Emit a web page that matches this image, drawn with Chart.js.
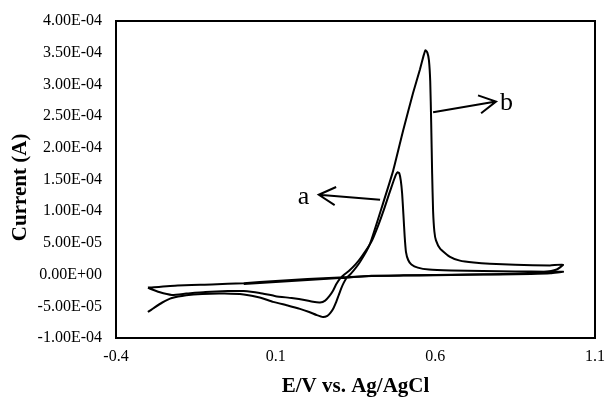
<!DOCTYPE html>
<html>
<head>
<meta charset="utf-8">
<script src="https://cdn.jsdelivr.net/npm/chart.js@4"></script>
<style>
  body { margin: 0; background: #fff; }
</style>
</head>
<body>
<canvas id="cvChart" width="605" height="399"></canvas>
<script>
// curve a: potential (V) and current (A), scan order
const aE = [-0.30, -0.265, -0.225, -0.18, -0.12, -0.05, 0.0, 0.05, 0.10, 0.15, 0.19, 0.217, 0.239, 0.255, 0.268, 0.28, 0.29, 0.302, 0.315, 0.33, 0.35, 0.37, 0.40, 0.42, 0.44, 0.455, 0.468, 0.477, 0.482, 0.487, 0.492, 0.496, 0.500, 0.504, 0.508, 0.515, 0.525, 0.545, 0.58, 0.65, 0.75, 0.85, 0.95, 1.0, 0.96, 0.9, 0.8, 0.7, 0.6, 0.5, 0.4, 0.3, 0.2, 0.1, 0.0, -0.1, -0.207, -0.30];
const aI = [-2.1e-5, -2.75e-5, -3.2e-5, -3.0e-5, -2.75e-5, -2.6e-5, -2.6e-5, -2.9e-5, -3.4e-5, -3.7e-5, -4.0e-5, -4.3e-5, -4.4e-5, -4.1e-5, -3.4e-5, -2.5e-5, -1.5e-5, -6e-6, 0, 6e-6, 1.6e-5, 2.9e-5, 5.2e-5, 7.6e-5, 1.04e-4, 1.27e-4, 1.46e-4, 1.58e-4, 1.615e-4, 1.6e-4, 1.48e-4, 1.28e-4, 9.5e-5, 6.0e-5, 3.6e-5, 2.3e-5, 1.6e-5, 1.1e-5, 8e-6, 6.5e-6, 5.5e-6, 5e-6, 4.5e-6, 4.5e-6, 2e-6, 1e-6, 3e-7, -3e-7, -1e-6, -1.6e-6, -2.4e-6, -4.5e-6, -7e-6, -1.0e-5, -1.35e-5, -1.55e-5, -1.7e-5, -2.05e-5];

// curve b
const bE = [-0.30, -0.28, -0.255, -0.225, -0.18, -0.13, -0.06, 0.0, 0.05, 0.092, 0.14, 0.176, 0.205, 0.229, 0.248, 0.262, 0.272, 0.281, 0.289, 0.297, 0.305, 0.313, 0.322, 0.335, 0.364, 0.395, 0.436, 0.468, 0.499, 0.530, 0.552, 0.563, 0.569, 0.575, 0.580, 0.584, 0.587, 0.590, 0.593, 0.597, 0.602, 0.615, 0.646, 0.677, 0.72, 0.771, 0.85, 0.959, 1.0, 0.98, 0.94, 0.85, 0.7, 0.5, 0.4, 0.3, 0.2, 0.1, 0.0];
const bI = [-5.9e-5, -5.2e-5, -4.4e-5, -3.7e-5, -3.25e-5, -3.05e-5, -3.0e-5, -3.15e-5, -3.6e-5, -4.3e-5, -4.9e-5, -5.4e-5, -5.9e-5, -6.4e-5, -6.7e-5, -6.5e-5, -6.0e-5, -5.3e-5, -4.4e-5, -3.3e-5, -2.2e-5, -1.3e-5, -5e-6, 1e-6, 2.0e-5, 4.8e-5, 1.12e-4, 1.64e-4, 2.27e-4, 2.86e-4, 3.24e-4, 3.45e-4, 3.54e-4, 3.50e-4, 3.38e-4, 3.05e-4, 2.4e-4, 1.6e-4, 1.0e-4, 6.8e-5, 5.4e-5, 4.1e-5, 2.8e-5, 2.2e-5, 1.9e-5, 1.7e-5, 1.55e-5, 1.45e-5, 1.55e-5, 8e-6, 4e-6, 1.5e-6, 0, -1.2e-6, -2e-6, -5.5e-6, -8.5e-6, -1.15e-5, -1.5e-5];

// axis ticks
const xTicks = [-0.4, 0.1, 0.6, 1.1];
const yTicks = [-1e-4, -5e-5, 0, 5e-5, 1e-4, 1.5e-4, 2e-4, 2.5e-4, 3e-4, 3.5e-4, 4e-4];

// curve labels with arrows (data units)
const labels = [
  { text: "a", at: [0.187, 1.12e-4], from: [0.427, 1.18e-4], to: [0.235, 1.26e-4] },
  { text: "b", at: [0.823, 2.59e-4], from: [0.593, 2.56e-4], to: [0.790, 2.73e-4] }
];

function sciLabel(v) {
  if (Math.abs(v) < 1e-12) return "0.00E+00";
  const parts = v.toExponential(2).split("e");
  const exp = parseInt(parts[1], 10);
  const sign = exp < 0 ? "-" : "+";
  return parts[0] + "E" + sign + String(Math.abs(exp)).padStart(2, "0");
}

const serif = "'Liberation Serif', 'Times New Roman', serif";

const frameAndLabels = {
  id: "frameAndLabels",
  afterDatasetsDraw(chart) {
    const { ctx, chartArea: ca, scales } = chart;
    ctx.save();
    ctx.strokeStyle = "#000";
    ctx.lineWidth = 2;
    ctx.strokeRect(ca.left, ca.top, ca.right - ca.left, ca.bottom - ca.top);

    ctx.fillStyle = "#000";
    ctx.font = "26px " + serif;
    ctx.textAlign = "center";
    ctx.textBaseline = "alphabetic";
    labels.forEach(l => {
      const tx = scales.x.getPixelForValue(l.at[0]);
      const ty = scales.y.getPixelForValue(l.at[1]);
      ctx.fillText(l.text, tx, ty);
      const x1 = scales.x.getPixelForValue(l.from[0]);
      const y1 = scales.y.getPixelForValue(l.from[1]);
      const x2 = scales.x.getPixelForValue(l.to[0]);
      const y2 = scales.y.getPixelForValue(l.to[1]);
      ctx.beginPath();
      ctx.moveTo(x1, y1);
      ctx.lineTo(x2, y2);
      const ang = Math.atan2(y2 - y1, x2 - x1);
      const len = 19, spread = 0.5;
      ctx.moveTo(x2 - len * Math.cos(ang - spread), y2 - len * Math.sin(ang - spread));
      ctx.lineTo(x2, y2);
      ctx.lineTo(x2 - len * Math.cos(ang + spread), y2 - len * Math.sin(ang + spread));
      ctx.stroke();
    });
    ctx.restore();
  }
};

const toPoints = (xs, ys) => xs.map((x, i) => ({ x: x, y: ys[i] }));

const lineStyle = {
  showLine: true,
  borderColor: "#000",
  backgroundColor: "#000",
  borderWidth: 2,
  pointRadius: 0,
  tension: 0.15,
  fill: false
};

new Chart(document.getElementById("cvChart"), {
  type: "scatter",
  data: {
    datasets: [
      Object.assign({ label: "a", data: toPoints(aE, aI) }, lineStyle),
      Object.assign({ label: "b", data: toPoints(bE, bI) }, lineStyle)
    ]
  },
  options: {
    responsive: false,
    animation: false,
    devicePixelRatio: 1,
    layout: { padding: { top: 21, right: 10, left: 0, bottom: 0 } },
    plugins: {
      legend: { display: false },
      tooltip: { enabled: false }
    },
    scales: {
      x: {
        type: "linear",
        min: -0.4,
        max: 1.1,
        grid: { display: false, drawTicks: false },
        border: { display: false },
        afterBuildTicks: s => { s.ticks = xTicks.map(v => ({ value: v })); },
        afterFit: s => { s.height = 61; s.paddingLeft = 0; s.paddingRight = 0; },
        ticks: {
          color: "#000",
          padding: 9,
          font: { family: serif, size: 16 },
          callback: v => String(Math.round(v * 10) / 10)
        },
        title: {
          display: true,
          text: "E/V vs. Ag/AgCl",
          color: "#000",
          padding: { top: 0, bottom: 0 },
          font: { family: serif, size: 21, weight: "bold" }
        }
      },
      y: {
        type: "linear",
        min: -1e-4,
        max: 4e-4,
        grid: { display: false, drawTicks: false },
        border: { display: false },
        afterBuildTicks: s => { s.ticks = yTicks.map(v => ({ value: v })); },
        afterFit: s => { s.width = 116; s.paddingTop = 0; s.paddingBottom = 0; },
        ticks: {
          color: "#000",
          padding: 14,
          font: { family: serif, size: 16 },
          callback: v => sciLabel(v)
        },
        title: {
          display: true,
          text: "Current (A)\u00A0\u00A0\u00A0",
          color: "#000",
          padding: { top: 8, bottom: 0 },
          font: { family: serif, size: 21, weight: "bold" }
        }
      }
    }
  },
  plugins: [frameAndLabels]
});
</script>
</body>
</html>
